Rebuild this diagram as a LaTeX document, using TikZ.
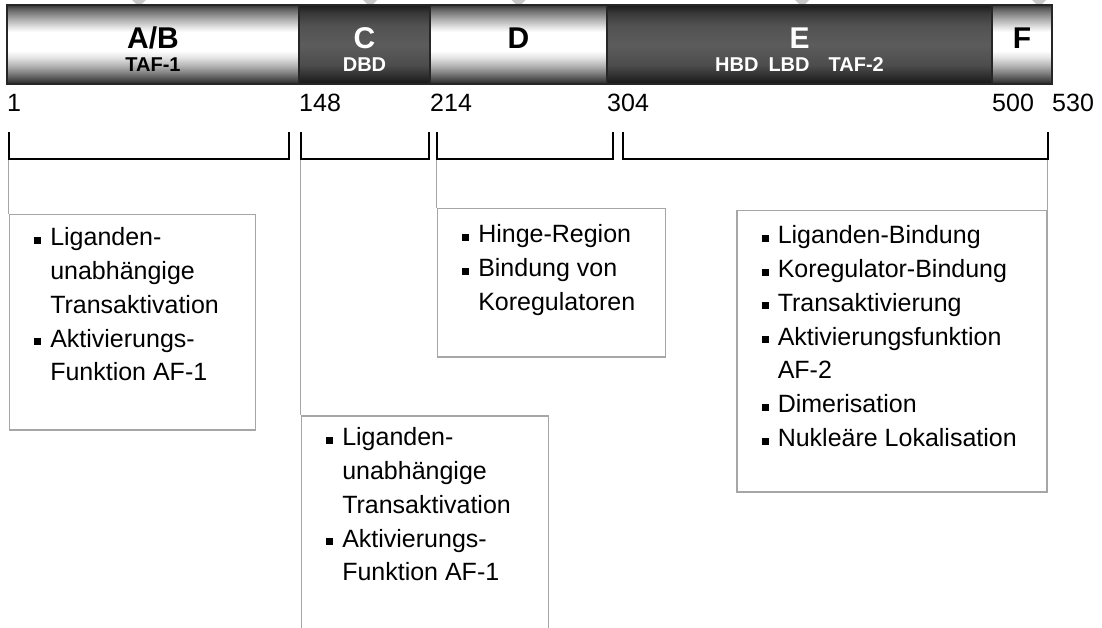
\documentclass[tikz,border=0pt]{standalone}
\usepackage{fontspec}
\setmainfont{Liberation Sans}
\usetikzlibrary{positioning,backgrounds}
\definecolor{rim}{HTML}{A6A6A6}
\definecolor{pincol}{HTML}{C8C8C8}
\pgfdeclareverticalshading{lightseg}{100bp}{color(0bp)=(black!85); color(25bp)=(black!85); color(28bp)=(black!70); color(32bp)=(black!50); color(37bp)=(black!28); color(42bp)=(black!10); color(46bp)=(white); color(58bp)=(white); color(62bp)=(black!15); color(66bp)=(black!32); color(70bp)=(black!50); color(73bp)=(black!65); color(75bp)=(black!80); color(100bp)=(black!80)}
\pgfdeclareverticalshading{darkseg}{100bp}{color(0bp)=(black!92); color(25bp)=(black!92); color(30bp)=(black!82); color(37bp)=(black!70); color(49.7bp)=(black!64); color(62.3bp)=(black!68); color(70bp)=(black!78); color(75bp)=(black!90); color(100bp)=(black!90)}
\newcommand{\itm}[1]{\par\hangindent=16pt\hangafter=1\noindent\makebox[16pt][l]{\rule[2pt]{7pt}{7pt}}#1}
\newcommand{\boxtext}[3]{\parbox[c][#2][t]{#1}{\parskip=0pt\parindent=0pt\leftskip=25pt #3}}
\tikzset{
  seg/.style={draw=black!85, line width=1.2pt, minimum height=79pt, inner sep=0pt, outer sep=0pt},
  seglight/.style={seg, shading=lightseg},
  segdark/.style={seg, shading=darkseg},
  segtitle/.style={font=\fontsize{30}{30}\selectfont\bfseries, anchor=base, inner sep=0pt},
  segsub/.style={font=\fontsize{20}{20}\selectfont\bfseries, anchor=base, inner sep=0pt},
  num/.style={font=\fontsize{25}{25}\selectfont, anchor=base west, inner sep=0pt},
  bracket/.style={line width=2pt, black},
  lead/.style={rim, line width=1.5pt},
  infobox/.style={draw=rim, line width=1.5pt, anchor=north west, inner sep=0pt,
                  font=\fontsize{25}{33.8}\selectfont}
}
\begin{document}
\begin{tikzpicture}[x=1pt, y=-1pt]
  \useasboundingbox (0,0) rectangle (1102,628);
  \clip (0,0) rectangle (1102,628);
  \coordinate (titlebase) at (0,48.5);
  \coordinate (subbase) at (0,72);
  \coordinate (numbase) at (0,112);
  \node[seglight, minimum width=292pt] (ab) at (153,44.5) {};
  \node[segdark, minimum width=131pt, right=0pt of ab] (c) {};
  \node[seglight, minimum width=177pt, right=0pt of c] (d) {};
  \node[segdark, minimum width=385pt, right=0pt of d] (e) {};
  \node[seglight, minimum width=60pt, right=0pt of e] (f) {};
  \begin{pgfonlayer}{background}
    \foreach \s/\dx in {ab/-14, c/5.5, d/0, e/2.5, f/17}
      \fill[pincol] ([xshift=\dx pt]\s.north) ++(-11,-9) -- ++(22,0) -- ++(-11,11) -- cycle;
  \end{pgfonlayer}
  \node[segtitle] (abname) at (ab |- titlebase) {A/B};
  \node[segsub] (abrole) at (ab |- subbase) {TAF-1};
  \node[segtitle, white] (cname) at (c |- titlebase) {C};
  \node[segsub, white] (crole) at (c |- subbase) {DBD};
  \node[segtitle] (dname) at (d |- titlebase) {D};
  \node[segtitle, white] (ename) at (e |- titlebase) {E};
  \node[segsub, white] (erole) at (e |- subbase) {HBD\hspace{10pt}LBD\hspace{19pt}TAF-2};
  \node[segtitle] (fname) at (f |- titlebase) {F};
  \node[num] (n1) at (ab.west |- numbase) {1};
  \node[num] (n148) at (c.west |- numbase) {148};
  \node[num] (n214) at (d.west |- numbase) {214};
  \node[num] (n304) at (e.west |- numbase) {304};
  \node[num] (n500) at (f.west |- numbase) {500};
  \node[num] (n530) at (f.east |- numbase) {530};
  \node[infobox] (abbox) at (8.5,214) {\boxtext{246pt}{215pt}{%
    \itm{\rule{0pt}{31pt}Liganden-\newline unabhängige\newline Transaktivation}%
    \itm{Aktivierungs-\newline Funktion AF-1}}};
  \node[infobox] (cbox) at (300.5,415) {\boxtext{247pt}{240pt}{%
    \itm{\rule{0pt}{30pt}Liganden-\newline unabhängige\newline Transaktivation}%
    \itm{Aktivierungs-\newline Funktion AF-1}}};
  \node[infobox] (dbox) at (436.5,208) {\boxtext{228pt}{148pt}{%
    \itm{\rule{0pt}{34pt}Hinge-Region}%
    \itm{Bindung von\newline Koregulatoren}}};
  \node[infobox, anchor=north east] (ebox) at (1047.5,210) {\boxtext{310pt}{281pt}{%
    \itm{\rule{0pt}{33pt}Liganden-Bindung}%
    \itm{Koregulator-Bindung}%
    \itm{Transaktivierung}%
    \itm{Aktivierungsfunktion\newline AF-2}%
    \itm{Dimerisation}%
    \itm{Nukleäre Lokalisation}}};
  \foreach \a/\b/\k in {8.5/289/ab, 300.5/429/c, 436.5/613/d, 623/1047.5/e} {
    \coordinate (\k L) at (\a,159);
    \coordinate (\k R) at (\b,159);
  }
  \draw[lead] (abL) -- (abbox.north west);
  \draw[lead] (cL) -- (cbox.north west);
  \draw[lead] (dL) -- (dbox.north west);
  \draw[lead] (eR) -- (ebox.north east);
  \foreach \k in {ab, c, d, e}
    \draw[bracket] (\k L) ++(0,-27) -- (\k L) -- (\k R) -- ++(0,-27);
\end{tikzpicture}
\end{document}
